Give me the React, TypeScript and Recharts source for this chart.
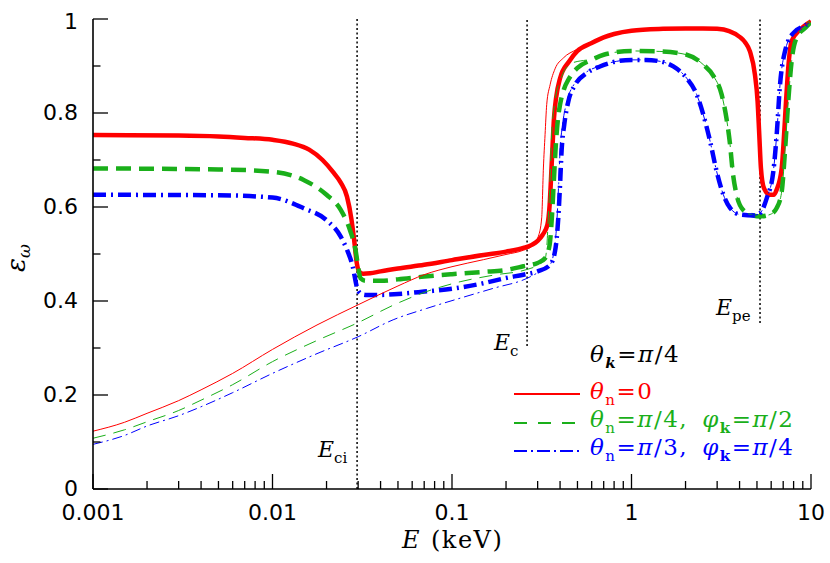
import React from 'react';
import { LineChart, Line, XAxis, YAxis, ReferenceLine } from 'recharts';

type Pt = [number, number];

// [E (keV), epsilon_omega]
const redThick: Pt[] = [
  [0.001, 0.753], [0.003, 0.752], [0.005, 0.75], [0.007, 0.747], [0.01, 0.743],
  [0.013, 0.735], [0.016, 0.722], [0.019, 0.7], [0.022, 0.672], [0.024, 0.652],
  [0.026, 0.622], [0.0275, 0.575], [0.0285, 0.53], [0.0295, 0.48], [0.0305, 0.462],
  [0.032, 0.458], [0.035, 0.459], [0.04, 0.463], [0.05, 0.469], [0.07, 0.477],
  [0.1, 0.487], [0.15, 0.498], [0.2, 0.505], [0.25, 0.513], [0.28, 0.52],
  [0.3, 0.528], [0.32, 0.541], [0.34, 0.562], [0.35, 0.605], [0.36, 0.698],
  [0.37, 0.789], [0.38, 0.832], [0.4, 0.874], [0.45, 0.91], [0.5, 0.932],
  [0.6, 0.949], [0.7, 0.961], [0.8, 0.968], [1, 0.975], [1.5, 0.979],
  [2, 0.98], [2.5, 0.98], [3, 0.979], [3.5, 0.974], [4, 0.962], [4.3, 0.95],
  [4.57, 0.931], [4.87, 0.882], [5.04, 0.825], [5.15, 0.754], [5.26, 0.683],
  [5.47, 0.64], [5.9, 0.626], [6.2, 0.626], [6.44, 0.637], [6.87, 0.683],
  [7.08, 0.754], [7.26, 0.825], [7.47, 0.896], [7.8, 0.953], [8.68, 0.977], [10, 0.995],
];

const greenThick: Pt[] = [
  [0.001, 0.682], [0.005, 0.68], [0.01, 0.675], [0.015, 0.657], [0.02, 0.626],
  [0.024, 0.594], [0.027, 0.551], [0.029, 0.509], [0.03, 0.473], [0.031, 0.448],
  [0.033, 0.443], [0.04, 0.443], [0.05, 0.446], [0.07, 0.452], [0.1, 0.457],
  [0.15, 0.462], [0.2, 0.466], [0.25, 0.474], [0.3, 0.481], [0.33, 0.491],
  [0.35, 0.52], [0.36, 0.577], [0.37, 0.662], [0.38, 0.74], [0.39, 0.79],
  [0.4, 0.818], [0.42, 0.85], [0.45, 0.874], [0.5, 0.896], [0.6, 0.913],
  [0.7, 0.924], [1, 0.932], [1.44, 0.931], [2.03, 0.924], [2.51, 0.903],
  [2.87, 0.878], [3.18, 0.839], [3.38, 0.789], [3.54, 0.733], [3.66, 0.676],
  [3.85, 0.626], [4.18, 0.594], [4.77, 0.582], [5.2, 0.58], [5.91, 0.584],
  [6.44, 0.598], [6.87, 0.633], [7.16, 0.718], [7.47, 0.825], [7.8, 0.91],
  [8.32, 0.96], [9.46, 0.984], [10, 0.994],
];

const blueThick: Pt[] = [
  [0.001, 0.626], [0.005, 0.625], [0.01, 0.62], [0.015, 0.597], [0.02, 0.572],
  [0.024, 0.537], [0.026, 0.509], [0.028, 0.473], [0.0295, 0.43], [0.031, 0.416],
  [0.033, 0.413], [0.04, 0.413], [0.05, 0.415], [0.07, 0.42], [0.1, 0.426],
  [0.15, 0.438], [0.2, 0.449], [0.25, 0.456], [0.3, 0.463], [0.352, 0.477],
  [0.375, 0.506], [0.391, 0.577], [0.4, 0.648], [0.408, 0.72], [0.422, 0.775],
  [0.445, 0.825], [0.485, 0.86], [0.563, 0.885], [0.667, 0.899], [0.827, 0.91],
  [1, 0.913], [1.2, 0.913], [1.44, 0.91], [1.71, 0.899], [2.03, 0.874],
  [2.31, 0.839], [2.51, 0.797], [2.74, 0.74], [2.98, 0.676], [3.25, 0.626],
  [3.54, 0.598], [4.02, 0.584], [4.77, 0.582], [5.2, 0.587], [5.67, 0.619],
  [6.17, 0.676], [6.44, 0.754], [6.72, 0.86], [7.16, 0.931], [7.97, 0.97],
  [9.46, 0.988], [10, 0.995],
];

const redThin: Pt[] = [
  [0.001, 0.123], [0.0015, 0.142], [0.002, 0.161], [0.003, 0.188], [0.004, 0.211],
  [0.006, 0.246], [0.01, 0.297], [0.0177, 0.349], [0.03, 0.392], [0.05, 0.432],
  [0.07, 0.456], [0.1, 0.473], [0.15, 0.488], [0.2, 0.499], [0.25, 0.508],
  [0.28, 0.517], [0.303, 0.538], [0.316, 0.577], [0.323, 0.683], [0.33, 0.754],
  [0.337, 0.818], [0.352, 0.86], [0.375, 0.894], [0.417, 0.917], [0.495, 0.935],
  [0.6, 0.949], [0.7, 0.961], [0.8, 0.968], [1, 0.975], [1.5, 0.979],
  [2, 0.98], [2.5, 0.98], [3, 0.979], [3.5, 0.974], [4, 0.962], [4.3, 0.95],
  [4.57, 0.931], [4.87, 0.882], [5.04, 0.825], [5.15, 0.754], [5.26, 0.683],
  [5.47, 0.64], [5.9, 0.626], [6.2, 0.626], [6.44, 0.637], [6.87, 0.683],
  [7.08, 0.754], [7.26, 0.825], [7.47, 0.896], [7.8, 0.953], [8.68, 0.977], [10, 0.995],
];

const greenThin: Pt[] = [
  [0.001, 0.108], [0.0015, 0.126], [0.002, 0.143], [0.003, 0.167], [0.004, 0.189],
  [0.006, 0.222], [0.01, 0.271], [0.0177, 0.316], [0.03, 0.354], [0.047, 0.391],
  [0.072, 0.42], [0.111, 0.441], [0.17, 0.455], [0.261, 0.467], [0.3, 0.476],
  [0.33, 0.49], [0.337, 0.513], [0.344, 0.577], [0.352, 0.662], [0.359, 0.754],
  [0.375, 0.825], [0.408, 0.877], [0.464, 0.906], [0.6, 0.915], [0.7, 0.924],
  [1, 0.932], [1.44, 0.931], [2.03, 0.924], [2.51, 0.903], [2.87, 0.878],
  [3.18, 0.839], [3.38, 0.789], [3.54, 0.733], [3.66, 0.676], [3.85, 0.626],
  [4.18, 0.594], [4.77, 0.582], [5.2, 0.58], [5.91, 0.584], [6.44, 0.598],
  [6.87, 0.633], [7.16, 0.718], [7.47, 0.825], [7.8, 0.91], [8.32, 0.96],
  [9.46, 0.984], [10, 0.994],
];

const blueThin: Pt[] = [
  [0.001, 0.095], [0.0015, 0.114], [0.002, 0.134], [0.003, 0.156], [0.004, 0.175],
  [0.006, 0.205], [0.01, 0.246], [0.0177, 0.288], [0.03, 0.324], [0.047, 0.36],
  [0.072, 0.384], [0.111, 0.406], [0.17, 0.427], [0.261, 0.448], [0.3, 0.46],
  [0.35, 0.476], [0.37, 0.505], [0.385, 0.577], [0.393, 0.65], [0.4, 0.72],
  [0.413, 0.775], [0.437, 0.825], [0.48, 0.862], [0.56, 0.887], [0.667, 0.9],
  [0.827, 0.91], [1, 0.913], [1.2, 0.913], [1.44, 0.91], [1.71, 0.899],
  [2.03, 0.874], [2.31, 0.839], [2.51, 0.797], [2.74, 0.74], [2.98, 0.676],
  [3.25, 0.626], [3.54, 0.598], [4.02, 0.584], [4.77, 0.582], [5.2, 0.587],
  [5.67, 0.619], [6.17, 0.676], [6.44, 0.754], [6.72, 0.86], [7.16, 0.931],
  [7.97, 0.97], [9.46, 0.988], [10, 0.995],
];

const decades = [0.001, 0.01, 0.1, 1, 10];
const xLabels = ['0.001', '0.01', '0.1', '1', '10'];
const xTicks = [0.001, 0.01, 0.1, 1]
  .flatMap((d) => [1, 2, 3, 4, 5, 6, 7, 8, 9].map((m) => +(m * d).toPrecision(3)))
  .concat([10]);
const yTicks = [0, 0.1, 0.2, 0.3, 0.4, 0.5, 0.6, 0.7, 0.8, 0.9, 1];
const yLabels = ['0', '0.2', '0.4', '0.6', '0.8', '1'];

// marker energies (keV) and where their dotted lines stop
const eCi = 0.0296;
const eC = 0.262;
const ePe = 5.2;

const RED = '#ff0000';
const GREEN = '#1aaf1a';
const BLUE = '#0000ff';
const INK = '#000';
const TICK_FONT = '"DejaVu Sans", sans-serif';
const SERIF = '"DejaVu Serif", serif';
const SUB_DY = 6;

const rows = (pts: Pt[]) => pts.map(([e, v]) => ({ e, v }));

const isDecade = (v: number) => {
  const lg = Math.log10(v);
  return Math.abs(lg - Math.round(lg)) < 1e-6;
};
const isMajorY = (v: number) => Math.round(v * 10) % 2 === 0;

const BottomTick = (props: any) => {
  const { x, y, payload } = props;
  const v = payload.value;
  const major = isDecade(v);
  const idx = decades.findIndex((d) => Math.abs(d - v) < d * 1e-6);
  return (
    <g>
      <line x1={x} x2={x} y1={y} y2={y - (major ? 15 : 8)} stroke={INK} strokeWidth={1.3} />
      {major && idx >= 0 && (
        <text x={x} y={y + 31} textAnchor="middle" fontFamily={TICK_FONT} fontSize={22} fill={INK}>
          {xLabels[idx]}
        </text>
      )}
    </g>
  );
};

const TopTick = (props: any) => {
  const { x, y, payload } = props;
  const major = isDecade(payload.value);
  return <line x1={x} x2={x} y1={y} y2={y + (major ? 15 : 8)} stroke={INK} strokeWidth={1.3} />;
};

const LeftTick = (props: any) => {
  const { x, y, payload } = props;
  const v = payload.value;
  const major = isMajorY(v);
  const label = major ? yLabels[Math.round(v * 5)] : null;
  return (
    <g>
      <line x1={x} x2={x + (major ? 15 : 7.5)} y1={y} y2={y} stroke={INK} strokeWidth={1.3} />
      {label && (
        <text x={x - 15} y={y + 7 + (v === 1 ? 3 : 0)} textAnchor="end" fontFamily={TICK_FONT} fontSize={22} fill={INK}>
          {label}
        </text>
      )}
    </g>
  );
};

const RightTick = (props: any) => {
  const { x, y, payload } = props;
  const major = isMajorY(payload.value);
  return <line x1={x} x2={x - (major ? 15 : 7.5)} y1={y} y2={y} stroke={INK} strokeWidth={1.3} />;
};

const axisLine = { stroke: INK, strokeWidth: 1.6 };

// plain text piece; `up` lifts it back from a subscript
const T = ({ children, italic = false, dx, up = false }: any) => (
  <tspan dx={dx} dy={up ? -SUB_DY : undefined} fontWeight="normal" fontStyle={italic ? 'italic' : 'normal'}>
    {children}
  </tspan>
);

const Sub = ({ children, bold = false, italic = false }: any) => (
  <tspan dy={SUB_DY} fontSize={15} fontWeight={bold ? 'bold' : 'normal'} fontStyle={italic ? 'italic' : 'normal'}>
    {children}
  </tspan>
);

const legendFont = { fontFamily: SERIF, fontSize: 23, letterSpacing: 1.5 };

const Overlay = () => (
  <svg width={830} height={563} style={{ position: 'absolute', left: 0, top: 0, pointerEvents: 'none' }}>
    {/* y-axis title */}
    <text transform="translate(25,272) rotate(-90)" fontFamily={SERIF} fontSize={26} fontStyle="italic" fill={INK}>
      ε<tspan dy={5} fontSize={17}>ω</tspan>
    </text>
    {/* x-axis title */}
    <text y={548} fontFamily={SERIF} fontSize={24} fill={INK}>
      <tspan x={402} fontStyle="italic">E</tspan>
      <tspan x={431} letterSpacing={1.5}>(keV)</tspan>
    </text>
    {/* marker labels */}
    <text x={318} y={457} fontFamily={SERIF} fontSize={22} fill={INK}>
      <T italic>E</T><Sub>ci</Sub>
    </text>
    <text x={494} y={350} fontFamily={SERIF} fontSize={22} fill={INK}>
      <T italic>E</T><Sub>c</Sub>
    </text>
    <text x={716} y={315} fontFamily={SERIF} fontSize={22} fill={INK}>
      <T italic>E</T><Sub>pe</Sub>
    </text>
    {/* legend */}
    <text x={590} y={362} {...legendFont} fill={INK}>
      <T italic>θ</T><Sub bold italic>k</Sub><T up>=</T><T italic>π</T><T>/4</T>
    </text>
    <line x1={514} x2={580} y1={394} y2={394} stroke={RED} strokeWidth={2} />
    <text x={590} y={399} {...legendFont} fill={RED}>
      <T italic>θ</T><Sub>n</Sub><T up>=0</T>
    </text>
    <line x1={514} x2={580} y1={423} y2={423} stroke={GREEN} strokeWidth={2} strokeDasharray="13 11" />
    <text x={590} y={427} {...legendFont} fill={GREEN}>
      <T italic>θ</T><Sub>n</Sub><T up>=</T><T italic>π</T><T>/4,</T>
      <T italic dx={14}>φ</T><Sub bold>k</Sub><T up>=</T><T italic>π</T><T>/2</T>
    </text>
    <line x1={514} x2={580} y1={451} y2={451} stroke={BLUE} strokeWidth={2} strokeDasharray="13 4 2 4" />
    <text x={590} y={455} {...legendFont} fill={BLUE}>
      <T italic>θ</T><Sub>n</Sub><T up>=</T><T italic>π</T><T>/3,</T>
      <T italic dx={14}>φ</T><Sub bold>k</Sub><T up>=</T><T italic>π</T><T>/4</T>
    </text>
  </svg>
);

const App: React.FC = () => {
  return (
    <div style={{ position: 'relative', width: 830, height: 563, background: '#fff' }}>
      <style>{'body{margin:0}'}</style>
      <LineChart width={830} height={563} margin={{ top: 19, right: 19, left: 0, bottom: 0 }}>
        <XAxis
          dataKey="e"
          type="number"
          scale="log"
          domain={[0.001, 10]}
          allowDataOverflow
          ticks={xTicks}
          interval={0}
          tick={BottomTick}
          tickLine={false}
          tickSize={0}
          tickMargin={0}
          axisLine={axisLine}
          height={74}
        />
        <XAxis
          xAxisId="top"
          orientation="top"
          dataKey="e"
          type="number"
          scale="log"
          domain={[0.001, 10]}
          allowDataOverflow
          ticks={xTicks}
          interval={0}
          tick={TopTick}
          tickLine={false}
          tickSize={0}
          tickMargin={0}
          axisLine={axisLine}
          height={0}
        />
        <YAxis
          type="number"
          domain={[0, 1]}
          allowDataOverflow
          ticks={yTicks}
          interval={0}
          tick={LeftTick}
          tickLine={false}
          tickSize={0}
          tickMargin={0}
          axisLine={axisLine}
          width={93}
        />
        <YAxis
          yAxisId="right"
          orientation="right"
          type="number"
          domain={[0, 1]}
          allowDataOverflow
          ticks={yTicks}
          interval={0}
          tick={RightTick}
          tickLine={false}
          tickSize={0}
          tickMargin={0}
          axisLine={axisLine}
          width={0}
        />
        <ReferenceLine segment={[{ x: eCi, y: 0 }, { x: eCi, y: 1 }]} stroke={INK} strokeWidth={1.5} strokeDasharray="2 2.5" />
        <ReferenceLine segment={[{ x: eC, y: 0.304 }, { x: eC, y: 1 }]} stroke={INK} strokeWidth={1.5} strokeDasharray="2 2.5" />
        <ReferenceLine segment={[{ x: ePe, y: 0.353 }, { x: ePe, y: 1 }]} stroke={INK} strokeWidth={1.5} strokeDasharray="2 2.5" />

        <Line data={rows(redThick)} dataKey="v" type="monotone" stroke={RED} strokeWidth={4.5} dot={false} isAnimationActive={false} />
        <Line data={rows(greenThick)} dataKey="v" type="monotone" stroke={GREEN} strokeWidth={4.5} strokeDasharray="15 8" dot={false} isAnimationActive={false} />
        <Line data={rows(blueThick)} dataKey="v" type="monotone" stroke={BLUE} strokeWidth={4.5} strokeDasharray="13 5 2 5" dot={false} isAnimationActive={false} />
        <Line data={rows(redThin)} dataKey="v" type="monotone" stroke={RED} strokeWidth={1} dot={false} isAnimationActive={false} />
        <Line data={rows(greenThin)} dataKey="v" type="monotone" stroke={GREEN} strokeWidth={1} strokeDasharray="13 8" dot={false} isAnimationActive={false} />
        <Line data={rows(blueThin)} dataKey="v" type="monotone" stroke={BLUE} strokeWidth={1} strokeDasharray="10 4 2 4" dot={false} isAnimationActive={false} />
      </LineChart>
      <Overlay />
    </div>
  );
};

export default App;
